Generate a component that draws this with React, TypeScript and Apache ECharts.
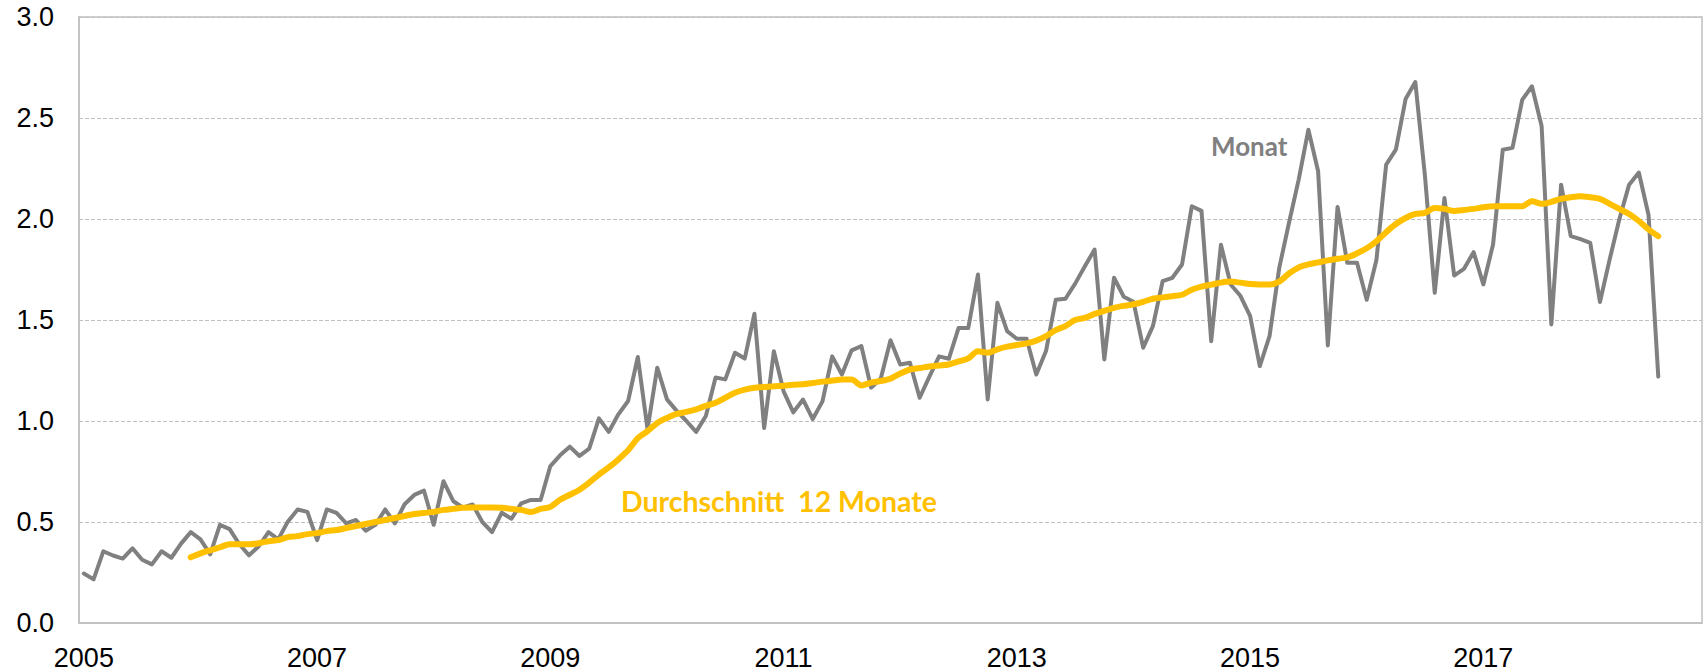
import React, { useEffect, useRef } from "react";
import * as echarts from "echarts";

// Month categories Jan 2005 .. Nov 2018 (axis range)
const START_YEAR = 2005;
const N_CATEGORIES = 167;
const MONTHS: string[] = [];
for (let k = 0; k < N_CATEGORIES; k++) {
  const y = START_YEAR + Math.floor(k / 12);
  const m = (k % 12) + 1;
  MONTHS.push(`${y}-${m < 10 ? "0" + m : m}`);
}

const X_TICK_LABELS = ["2005", "2007", "2009", "2011", "2013", "2015", "2017"];
const Y_TICKS = ["0.0", "0.5", "1.0", "1.5", "2.0", "2.5", "3.0"];

// "Monat" — monthly values, Jan 2005 .. Jul 2018
const MONAT = [
  0.245, 0.216, 0.355, 0.334, 0.319, 0.37, 0.313, 0.29, 0.355, 0.323, 0.393, 0.45,
  0.414, 0.34, 0.486, 0.465, 0.39, 0.335, 0.38, 0.45, 0.414, 0.503, 0.562, 0.55,
  0.41, 0.562, 0.545, 0.493, 0.51, 0.457, 0.486, 0.562, 0.493, 0.588, 0.634, 0.655,
  0.486, 0.702, 0.604, 0.571, 0.587, 0.5, 0.45, 0.546, 0.516, 0.592, 0.609, 0.609,
  0.777, 0.83, 0.873, 0.827, 0.863, 1.013, 0.946, 1.033, 1.099, 1.317, 0.959, 1.264,
  1.107, 1.05, 1.0, 0.946, 1.025, 1.215, 1.206, 1.338, 1.309, 1.531, 0.965, 1.345,
  1.147, 1.043, 1.106, 1.01, 1.097, 1.32, 1.23, 1.35, 1.371, 1.165, 1.21, 1.4,
  1.28, 1.288, 1.115, 1.22, 1.32, 1.308, 1.46, 1.46, 1.725, 1.107, 1.585, 1.445,
  1.407, 1.407, 1.23, 1.346, 1.6, 1.605, 1.68, 1.766, 1.849, 1.305, 1.709, 1.615,
  1.59, 1.363, 1.47, 1.692, 1.709, 1.775, 2.063, 2.04, 1.395, 1.873, 1.676, 1.62,
  1.52, 1.272, 1.42, 1.758, 1.98, 2.195, 2.442, 2.236, 1.374, 2.06, 1.783, 1.783,
  1.6, 1.797, 2.269, 2.343, 2.594, 2.678, 2.21, 1.635, 2.104, 1.72, 1.753, 1.836,
  1.676, 1.874, 2.343, 2.352, 2.59, 2.657, 2.459, 1.478, 2.17, 1.915, 1.9, 1.882,
  1.589, 1.8, 2.0, 2.17, 2.23, 2.02, 1.22,
];

// "Durchschnitt 12 Monate" — 12-month average, Dec 2005 .. Jul 2018
const AVG_START_INDEX = 11;
const DURCHSCHNITT = [
  0.325,
  0.345, 0.36, 0.375, 0.39, 0.39, 0.39, 0.395, 0.405, 0.41, 0.425, 0.43, 0.44,
  0.445, 0.455, 0.46, 0.47, 0.48, 0.49, 0.5, 0.51, 0.52, 0.53, 0.54, 0.545,
  0.55, 0.56, 0.565, 0.57, 0.572, 0.572, 0.572, 0.57, 0.565, 0.56, 0.55, 0.565,
  0.575, 0.61, 0.635, 0.66, 0.695, 0.735, 0.77, 0.81, 0.855, 0.915, 0.95, 0.99,
  1.015, 1.035, 1.045, 1.058, 1.075, 1.09, 1.115, 1.14, 1.155, 1.165, 1.168, 1.172,
  1.175, 1.18, 1.182, 1.188, 1.195, 1.2, 1.205, 1.205, 1.176, 1.19, 1.198, 1.21,
  1.235, 1.255, 1.262, 1.27, 1.275, 1.28, 1.295, 1.31, 1.345, 1.338, 1.355, 1.368,
  1.376, 1.384, 1.398, 1.42, 1.45, 1.47, 1.5, 1.51, 1.53, 1.545, 1.56, 1.57,
  1.578, 1.59, 1.605, 1.612, 1.618, 1.625, 1.65, 1.665, 1.675, 1.685, 1.69, 1.685,
  1.678, 1.676, 1.676, 1.69, 1.73, 1.76, 1.775, 1.785, 1.795, 1.803, 1.81, 1.83,
  1.855, 1.89, 1.935, 1.975, 2.005, 2.025, 2.03, 2.055, 2.05, 2.04, 2.045, 2.05,
  2.058, 2.063, 2.063, 2.063, 2.063, 2.088, 2.075, 2.085, 2.1, 2.108, 2.113, 2.108,
  2.1, 2.075, 2.05, 2.025, 1.99, 1.948, 1.915,
];

const GREY = "#808080";
const YELLOW = "#FFC000";

export default function App() {
  const ref = useRef<HTMLDivElement>(null);

  useEffect(() => {
    document.body.style.margin = "0";
    if (!ref.current) return;
    const chart = echarts.init(ref.current, undefined, { renderer: "svg" });

    const avgData: (number | null)[] = [];
    for (let k = 0; k < AVG_START_INDEX; k++) avgData.push(null);
    DURCHSCHNITT.forEach((v) => avgData.push(v));

    chart.setOption({
      animation: false,
      backgroundColor: "#ffffff",
      grid: {
        left: 79,
        right: 4,
        top: 17,
        bottom: 48,
        show: true,
        borderColor: "#c0c0c0",
        borderWidth: 1.5,
      },
      xAxis: {
        type: "category",
        data: MONTHS,
        boundaryGap: true,
        axisLine: { show: true, lineStyle: { color: "#c0c0c0", width: 1.5 } },
        axisTick: { show: false },
        splitLine: { show: false },
        axisLabel: {
          interval: (index: number) => index % 24 === 0,
          formatter: (value: string) => {
            const y = value.slice(0, 4);
            return X_TICK_LABELS.indexOf(y) >= 0 ? y : "";
          },
          color: "#000000",
          fontFamily: "Liberation Sans",
          fontSize: 27,
          margin: 21,
        },
      },
      yAxis: {
        type: "value",
        min: 0,
        max: 3,
        interval: 0.5,
        axisLine: { show: true, lineStyle: { color: "#c0c0c0", width: 1.5 } },
        axisTick: { show: false },
        splitLine: {
          show: true,
          lineStyle: { color: "#c0c0c0", width: 1, type: [4, 2] },
        },
        axisLabel: {
          formatter: (v: number) => Y_TICKS[Math.round(v / 0.5)],
          color: "#000000",
          fontFamily: "Liberation Sans",
          fontSize: 27,
          margin: 25,
        },
      },
      series: [
        {
          name: "Monat",
          type: "line",
          data: MONAT,
          showSymbol: false,
          symbol: "none",
          lineStyle: { color: GREY, width: 4, join: "round", cap: "round" },
          z: 2,
        },
        {
          name: "Durchschnitt 12 Monate",
          type: "line",
          data: avgData,
          showSymbol: false,
          symbol: "none",
          smooth: 0.3,
          connectNulls: false,
          lineStyle: { color: YELLOW, width: 6, join: "round", cap: "round" },
          z: 3,
        },
      ],
      graphic: [
        {
          type: "text",
          x: 1211,
          y: 146,
          style: {
            text: "Monat",
            fill: GREY,
            font: "bold 26px Lato",
            textAlign: "left",
            textVerticalAlign: "middle",
          },
        },
        {
          type: "text",
          x: 621,
          y: 501,
          style: {
            text: "Durchschnitt  12 Monate",
            fill: YELLOW,
            font: "bold 28.5px Lato",
            textAlign: "left",
            textVerticalAlign: "middle",
          },
        },
      ],
    });

    return () => chart.dispose();
  }, []);

  return (
    <div
      ref={ref}
      style={{ position: "fixed", left: 0, top: 0, width: 1706, height: 671 }}
    />
  );
}
